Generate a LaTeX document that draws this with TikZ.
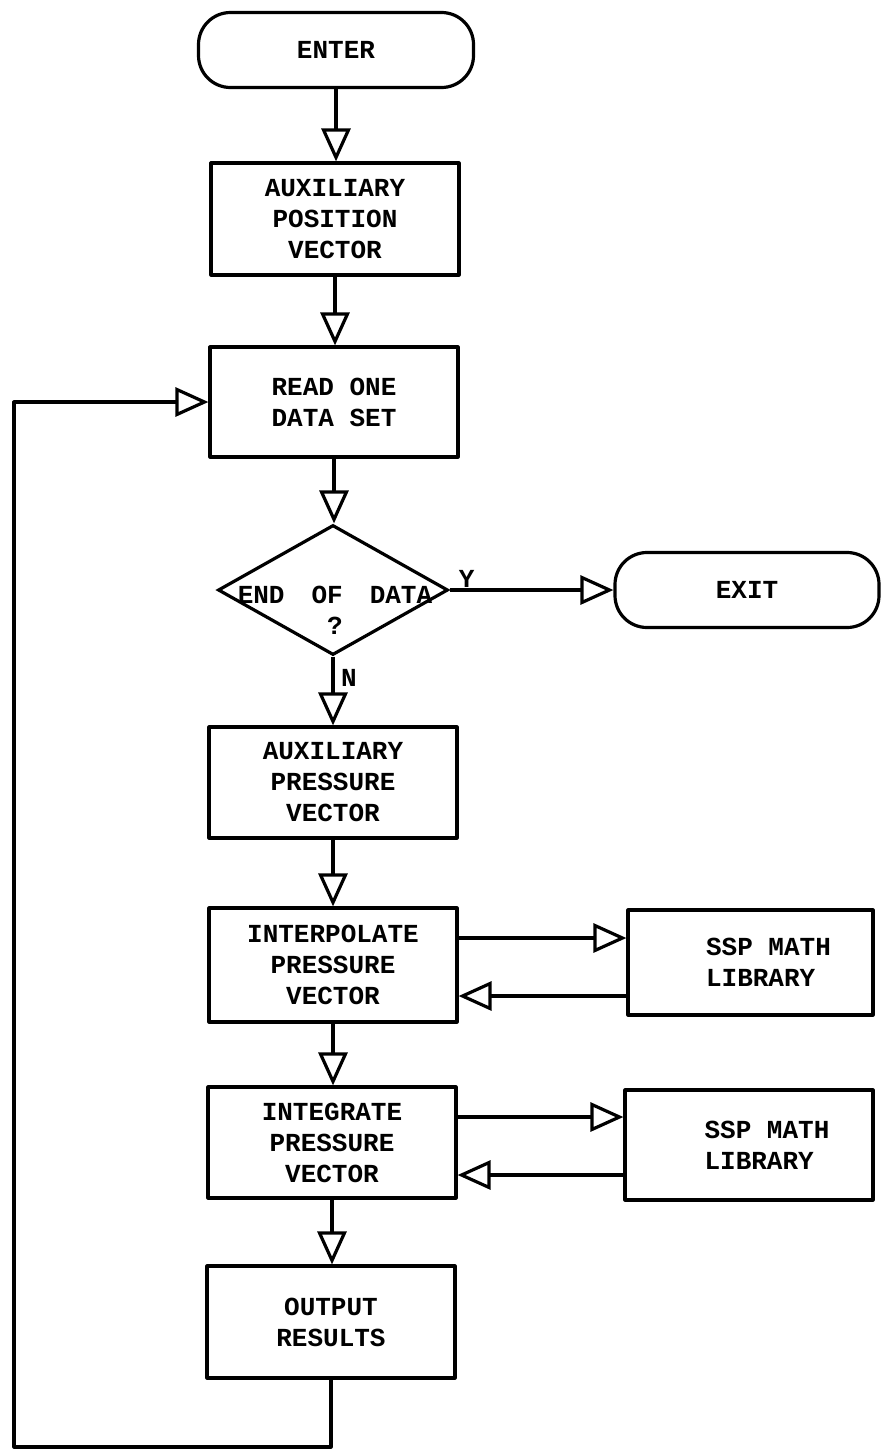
\documentclass[tikz,border=0pt]{standalone}
\usepackage{fontspec}
\setmainfont{Liberation Mono}
\usetikzlibrary{arrows.meta,shapes.geometric,calc}
\begin{document}
\begin{tikzpicture}[x=1pt,y=-1pt,
  every node/.style={font=\fontsize{26}{31}\selectfont\bfseries},
  box/.style={draw, line width=3.2pt, rectangle, inner sep=0pt, align=center, minimum width=248pt, line join=round},
  term/.style={draw, line width=3.2pt, rectangle, rounded corners=32pt, inner sep=0pt, minimum height=75pt},
  decision/.style={draw, line width=3.2pt, diamond, inner sep=0pt, minimum width=230pt, minimum height=130pt, aspect=1.77},
  conn/.style={line width=3.2pt, line join=round},
  arr/.style={conn, -{Triangle[open, length=33pt, width=29pt, line join=miter]}},
  txt/.style={inner sep=0pt, align=center}
]
\useasboundingbox (0,0) rectangle (881,1451);
\fill[white] (0,0) rectangle (881,1451);

\node[term, minimum width=275pt] (enter) at (336,50) {ENTER};
\node[box, minimum height=112pt] (b1) at (335,219) {AUXILIARY\\POSITION\\VECTOR};
\node[box, minimum height=110pt] (b2) at (334,402) {READ ONE\\DATA SET};
\node[decision] (d) at (333,590) {};
\node[txt] (dtext) at (335,610) {END\hspace{27pt}OF\hspace{27pt}DATA\\?};
\node[term, minimum width=264pt] (exit) at (747,590) {EXIT};
\node[box, minimum height=111pt] (b3) at (333,782.5) {AUXILIARY\\PRESSURE\\VECTOR};
\node[box, minimum height=114pt] (b4) at (333,965) {INTERPOLATE\\PRESSURE\\VECTOR};
\node[box, minimum width=245pt, minimum height=105pt, label={[txt, align=left, xshift=18pt]center:SSP MATH\\LIBRARY}] (s1) at (750.5,962.5) {};
\node[box, minimum height=111pt] (b6) at (332,1142.5) {INTEGRATE\\PRESSURE\\VECTOR};
\node[box, minimum height=110pt, label={[txt, align=left, xshift=18pt]center:SSP MATH\\LIBRARY}] (s2) at (749,1145) {};
\node[box, minimum height=112pt] (b7) at (331,1322) {OUTPUT\\RESULTS};

\node[inner sep=1pt, anchor=south west] (ylab) at ([xshift=8pt,yshift=1pt]d.east) {Y};
\node[inner sep=1pt, anchor=north west] (nlab) at ([xshift=7pt,yshift=-12pt]d.south) {N};

\coordinate (c1) at (331,1447);
\coordinate (c2) at (14,1447);

\draw[arr] (enter.south) -- (enter.south |- b1.north);
\draw[arr] (b1.south) -- (b1.south |- b2.north);
\draw[arr] (b2.south) -- (b2.south |- d.north);
\draw[arr] (d.east) -- (exit.west);
\draw[arr] (d.south) -- (d.south |- b3.north);
\draw[arr] (b3.south) -- (b3.south |- b4.north);
\draw[arr] (b4.south) -- (b4.south |- b6.north);
\draw[arr] (b6.south) -- (b6.south |- b7.north);
\draw[arr] ([yshift=27pt]b4.east) -- ([yshift=27pt]b4.east -| s1.west);
\draw[arr] ([yshift=-31pt]b4.east -| s1.west) -- ([yshift=-31pt]b4.east);
\draw[arr] ([yshift=25.5pt]b6.east) -- ([yshift=25.5pt]b6.east -| s2.west);
\draw[arr] ([yshift=-32.5pt]b6.east -| s2.west) -- ([yshift=-32.5pt]b6.east);
\draw[arr] (b7.south) -- (c1) -- (c2) |- (b2.west);
\end{tikzpicture}
\end{document}
